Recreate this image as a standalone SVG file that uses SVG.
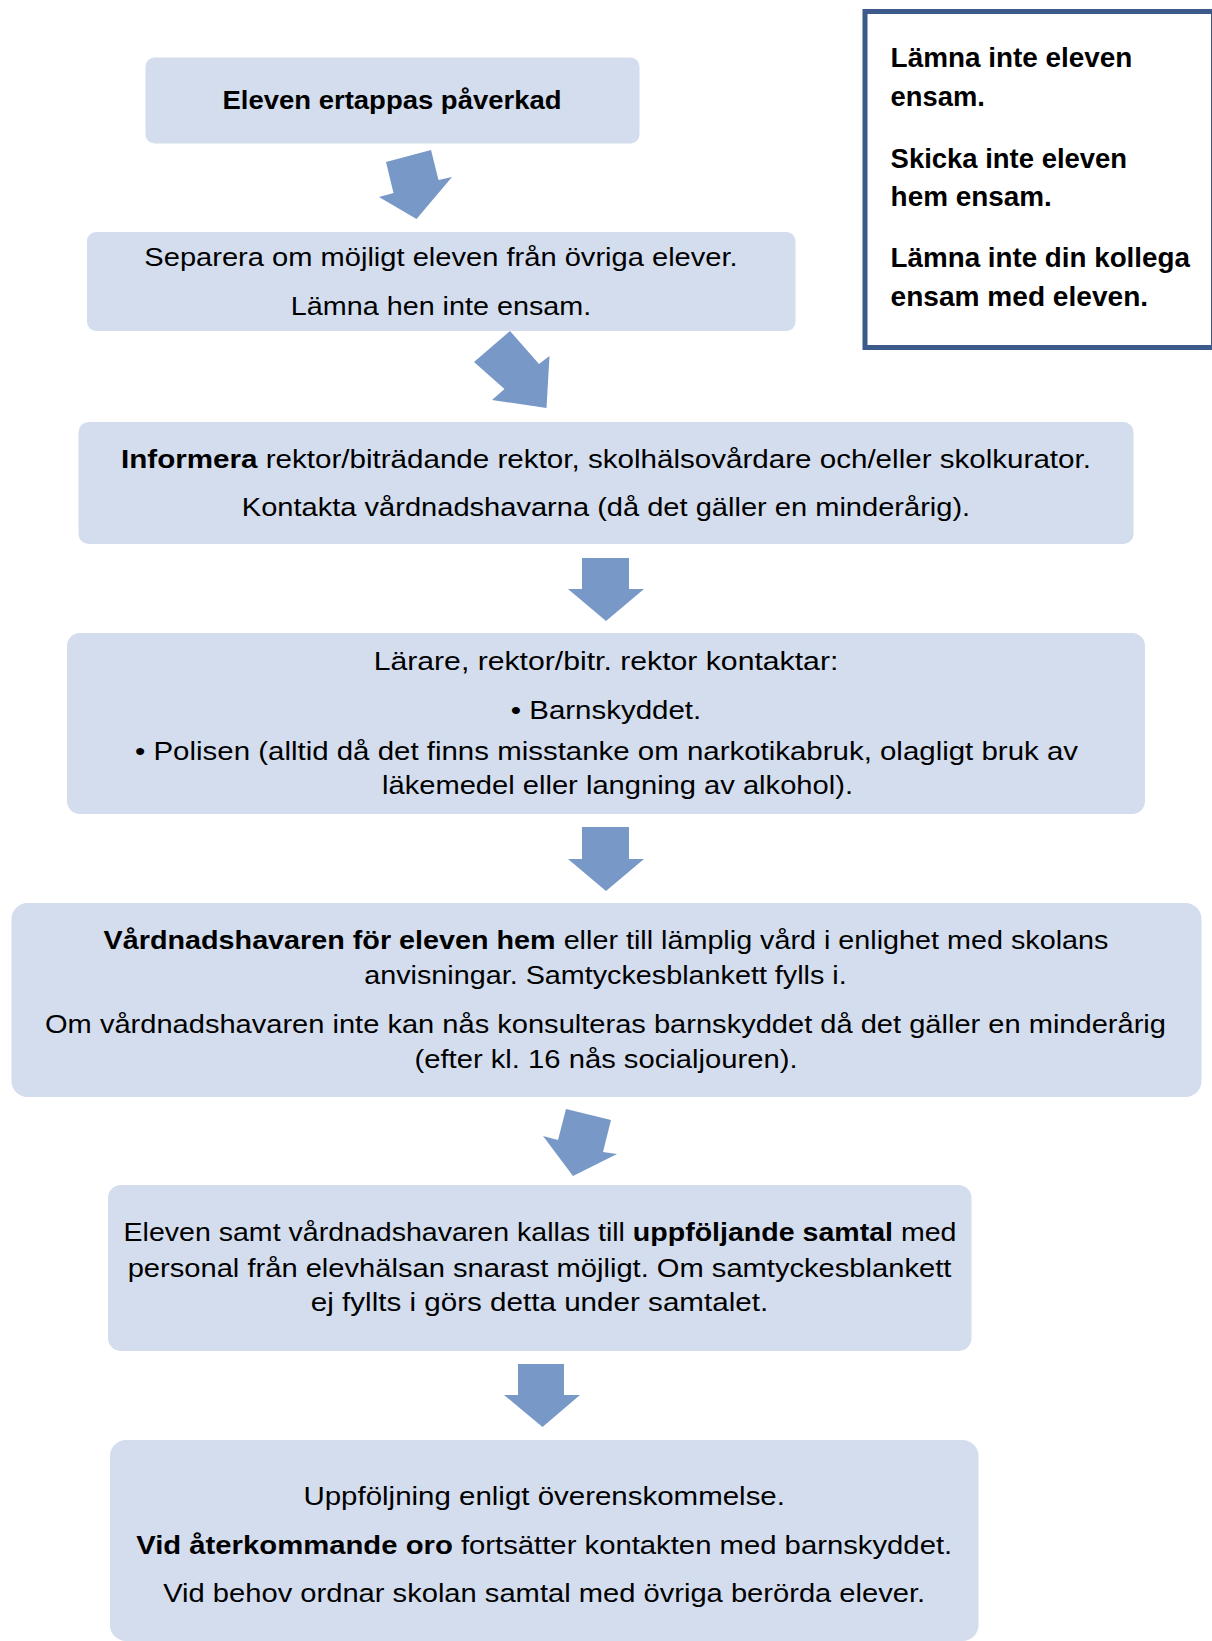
<svg xmlns="http://www.w3.org/2000/svg" width="1212" height="1641" viewBox="0 0 1212 1641">
<style>
.box{fill:#d3ddee;}
.arr{fill:#7898c8;}
text{font-family:"Liberation Sans",Arial,sans-serif;fill:#000;}
.t{font-size:25px;text-anchor:middle;}
.b{font-weight:bold;}
.s{font-size:27px;font-weight:bold;}
</style>
<rect width="1212" height="1641" fill="#ffffff"/>
<g id="connectors">
<polygon class="arr" points="386,162 431,150 438.5,180 452,177 416.5,219 379,197 393.5,193"/>
<polygon class="arr" points="510,331 539,364 549.5,356 546.5,408 492,400 504.5,389 474,362"/>
<polygon class="arr" points="582,558 629,558 629,589 644,589 606,621 568,589 582,589"/>
<polygon class="arr" points="582,827 629,827 629,859 644,859 606,891 568,859 582,859"/>
<polygon class="arr" points="566,1109 611,1120 603,1152 617,1154 573,1176 543,1136 558,1140"/>
<polygon class="arr" points="518,1364 564,1364 564,1395 580,1395 542.5,1427 504,1395 518,1395"/>
</g>
<g id="node-side">
<rect x="865" y="11.5" width="348.5" height="336" fill="#ffffff" stroke="#3c5a8a" stroke-width="5"/>
<text class="s" x="890.6" y="67" textLength="241.8" lengthAdjust="spacingAndGlyphs">Lämna inte eleven</text>
<text class="s" x="890.6" y="105.7" textLength="94.2" lengthAdjust="spacingAndGlyphs">ensam.</text>
<text class="s" x="890.6" y="167.5" textLength="236.5" lengthAdjust="spacingAndGlyphs">Skicka inte eleven</text>
<text class="s" x="890.6" y="206" textLength="161.2" lengthAdjust="spacingAndGlyphs">hem ensam.</text>
<text class="s" x="890.6" y="267" textLength="299.3" lengthAdjust="spacingAndGlyphs">Lämna inte din kollega</text>
<text class="s" x="890.6" y="305.6" textLength="257.5" lengthAdjust="spacingAndGlyphs">ensam med eleven.</text>
</g>
<g id="node-1">
<rect class="box" x="145.5" y="57.5" width="494" height="86" rx="9"/>
<text class="t b" x="392" y="108.5" font-size="26" textLength="339" lengthAdjust="spacingAndGlyphs">Eleven ertappas påverkad</text>
</g>
<g id="node-2">
<rect class="box" x="87" y="232" width="708.5" height="99" rx="9"/>
<text class="t" x="441" y="265.8" textLength="593.4" lengthAdjust="spacingAndGlyphs">Separera om möjligt eleven från övriga elever.</text>
<text class="t" x="441" y="315" textLength="300.4" lengthAdjust="spacingAndGlyphs">Lämna hen inte ensam.</text>
</g>
<g id="node-3">
<rect class="box" x="78.5" y="422" width="1055" height="122" rx="10"/>
<text class="t" x="606" y="468" textLength="970" lengthAdjust="spacingAndGlyphs"><tspan class="b">Informera</tspan> rektor/biträdande rektor, skolhälsovårdare och/eller skolkurator.</text>
<text class="t" x="606" y="516" textLength="728.4" lengthAdjust="spacingAndGlyphs">Kontakta vårdnadshavarna (då det gäller en minderårig).</text>
</g>
<g id="node-4">
<rect class="box" x="67" y="633" width="1078" height="181" rx="13"/>
<text class="t" x="606" y="670" textLength="464.7" lengthAdjust="spacingAndGlyphs">Lärare, rektor/bitr. rektor kontaktar:</text>
<text class="t" x="606" y="719" textLength="190.5" lengthAdjust="spacingAndGlyphs">• Barnskyddet.</text>
<text class="t" x="606.5" y="760" textLength="943" lengthAdjust="spacingAndGlyphs">• Polisen (alltid då det finns misstanke om narkotikabruk, olagligt bruk av</text>
<text class="t" x="617.5" y="794.4" textLength="471" lengthAdjust="spacingAndGlyphs">läkemedel eller langning av alkohol).</text>
</g>
<g id="node-5">
<rect class="box" x="11.5" y="903" width="1190" height="194" rx="16"/>
<text class="t" x="606" y="949.3" textLength="1004.8" lengthAdjust="spacingAndGlyphs"><tspan class="b">Vårdnadshavaren för eleven hem</tspan> eller till lämplig vård i enlighet med skolans</text>
<text class="t" x="605.5" y="983.8" textLength="482.5" lengthAdjust="spacingAndGlyphs">anvisningar. Samtyckesblankett fylls i.</text>
<text class="t" x="605.5" y="1033" textLength="1121" lengthAdjust="spacingAndGlyphs">Om vårdnadshavaren inte kan nås konsulteras barnskyddet då det gäller en minderårig</text>
<text class="t" x="606" y="1067.5" textLength="383" lengthAdjust="spacingAndGlyphs">(efter kl. 16 nås socialjouren).</text>
</g>
<g id="node-6">
<rect class="box" x="108" y="1185" width="863.5" height="166" rx="13"/>
<text class="t" x="540" y="1241.3" textLength="833" lengthAdjust="spacingAndGlyphs">Eleven samt vårdnadshavaren kallas till <tspan class="b">uppföljande samtal</tspan> med</text>
<text class="t" x="539.5" y="1276.9" textLength="823.7" lengthAdjust="spacingAndGlyphs">personal från elevhälsan snarast möjligt. Om samtyckesblankett</text>
<text class="t" x="539.5" y="1311.4" textLength="457.4" lengthAdjust="spacingAndGlyphs">ej fyllts i görs detta under samtalet.</text>
</g>
<g id="node-7">
<rect class="box" x="110" y="1440" width="868.5" height="201" rx="16"/>
<text class="t" x="544.2" y="1505" textLength="481.5" lengthAdjust="spacingAndGlyphs">Uppföljning enligt överenskommelse.</text>
<text class="t" x="544.2" y="1554" textLength="816" lengthAdjust="spacingAndGlyphs"><tspan class="b">Vid återkommande oro</tspan> fortsätter kontakten med barnskyddet.</text>
<text class="t" x="544.2" y="1602.4" textLength="762" lengthAdjust="spacingAndGlyphs">Vid behov ordnar skolan samtal med övriga berörda elever.</text>
</g>
</svg>
